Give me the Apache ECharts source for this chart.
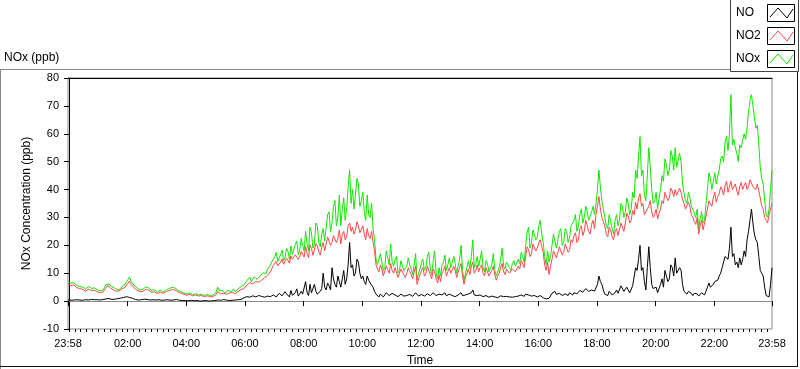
<!DOCTYPE html>
<html>
<head>
<meta charset="utf-8">
<script src="https://cdn.jsdelivr.net/npm/echarts@6/dist/echarts.min.js"></script>
<style>
html,body{margin:0;padding:0;background:#fff;}
#c{width:800px;height:369px;}
</style>
</head>
<body>
<div id="c"></div>
<script>
// Sampling: one reading every 3 minutes, starting 23:58 (-2 min), ending 23:58 next day
var startMinute = -2;
var stepMinutes = 3;

var noValues = [
0.5,0.6,0.3,0.4,0.4,0.5,0.5,0.3,0.4,0.5,0.3,0.4,0.5,0.3,0.4,0.5,0.6,0.4,0.5,0.4,
0.5,0.4,0.4,0.5,0.6,0.7,0.8,0.7,0.9,0.8,0.6,0.7,0.7,0.8,0.9,1.0,1.1,1.2,1.3,1.4,
1.6,1.5,1.3,1.2,1.0,0.8,0.6,0.5,0.4,0.5,0.5,0.6,0.7,0.6,0.6,0.5,0.4,0.4,0.5,0.4,
0.4,0.3,0.5,0.4,0.3,0.4,0.4,0.5,0.5,0.4,0.3,0.5,0.4,0.5,0.6,0.4,0.3,0.3,0.2,0.3,
0.2,0.1,0.1,0.2,0.3,0.2,0.1,0.2,0.2,0.1,0.0,0.1,0.1,0.2,0.2,0.1,0.0,0.1,0.1,0.1,
0.2,0.3,0.4,0.4,0.3,0.4,0.5,0.4,0.4,0.3,0.2,0.3,0.3,0.4,0.4,0.5,0.5,0.6,0.6,0.9,
1.2,1.0,1.6,1.3,1.4,1.2,1.9,1.6,1.5,1.3,2.0,1.5,1.7,1.4,1.4,1.2,1.8,1.4,1.6,1.9,
2.2,2.5,1.5,1.6,2.8,2.3,1.9,1.4,3.4,2.6,2.0,1.5,3.8,2.1,2.5,3.0,4.4,1.8,2.6,3.5,
2.5,2.0,7.0,3.0,2.0,6.0,3.0,2.5,6.0,3.5,2.5,3.0,3.5,4.5,10.0,5.0,4.0,6.5,5.5,4.0,
12.0,8.0,6.0,5.0,9.0,7.0,5.0,8.0,11.0,6.0,8.0,13.0,21.0,12.0,13.0,9.0,10.0,15.0,14.0,10.0,
8.0,9.0,7.0,6.0,9.0,7.5,6.5,7.0,5.0,3.5,2.5,1.8,1.5,2.5,2.0,1.5,1.8,3.0,2.5,2.0,
2.0,2.8,3.5,2.2,2.2,1.6,1.8,2.5,3.0,1.8,2.5,2.0,1.6,2.4,2.2,1.7,1.8,3.0,2.6,1.8,
2.0,2.4,2.5,1.8,1.7,2.6,2.8,2.0,2.2,3.0,3.5,2.0,1.8,2.5,2.0,2.2,2.6,3.0,1.9,2.3,
2.5,1.8,2.0,2.6,1.6,1.9,2.2,2.8,3.0,2.0,1.8,2.2,2.4,2.6,2.0,3.0,4.0,2.2,2.6,2.0,
1.8,2.2,2.5,1.6,1.5,2.0,1.9,1.4,1.3,1.8,2.4,1.5,1.6,1.2,1.4,1.9,2.0,1.6,1.5,1.7,
1.3,1.5,1.8,1.4,1.2,1.6,1.6,1.8,1.4,2.2,2.0,1.7,2.5,2.8,2.2,1.8,1.8,2.3,2.0,1.6,
1.5,1.8,2.0,1.4,1.2,1.0,0.8,1.1,1.0,1.6,2.8,3.2,3.5,2.4,2.0,2.8,2.5,2.0,1.8,2.6,
2.5,2.0,3.0,3.5,2.2,3.0,3.5,2.6,3.0,3.8,4.0,3.2,3.6,4.5,4.2,3.5,3.0,4.0,4.5,3.6,
4.0,6.0,9.0,7.0,6.0,4.0,2.5,2.8,2.0,3.5,3.0,2.2,1.5,3.0,4.0,2.8,3.5,5.5,5.0,3.5,
3.0,5.0,4.5,3.0,2.8,5.5,6.0,12.0,11.0,15.0,20.0,11.0,12.0,7.0,4.0,12.0,19.5,12.0,6.0,4.5,
4.0,5.0,3.0,4.5,6.0,8.0,5.0,11.0,9.0,7.0,8.0,13.0,12.0,9.0,15.5,10.0,10.0,12.0,11.0,6.0,
3.5,3.0,2.5,3.5,3.0,2.8,2.0,2.8,2.5,2.6,1.8,2.4,3.0,2.4,2.2,3.5,4.0,6.5,5.0,4.5,
6.0,7.0,7.0,7.5,9.0,10.0,12.0,12.0,16.0,16.5,15.0,19.0,26.5,16.0,17.0,13.0,14.0,12.0,15.5,13.0,
15.0,18.0,16.0,22.0,25.0,29.0,33.0,28.0,24.0,22.0,21.0,16.0,11.0,10.0,9.0,5.0,2.0,1.5,1.5,6.0,12.0
];

var no2Values = [
6.2,6.6,5.5,5.1,5.8,5.3,4.8,4.2,4.5,4.8,4.2,3.7,3.6,3.9,4.3,4.0,3.8,3.5,3.9,3.6,
3.4,3.2,3.0,3.5,3.3,4.1,4.8,5.6,5.2,4.7,4.4,4.0,3.9,3.5,3.4,3.8,3.6,4.5,4.1,4.9,
5.8,6.5,7.2,6.0,5.3,4.8,4.5,4.0,3.6,3.4,3.2,3.5,3.8,4.2,4.6,3.9,3.4,3.2,3.0,3.3,
3.0,2.7,2.8,3.2,3.1,2.8,2.9,3.4,3.3,3.8,3.6,4.1,4.4,4.0,3.8,3.3,3.0,2.8,2.6,2.4,
2.3,2.1,2.0,2.4,2.2,1.9,1.8,2.2,2.1,1.8,1.7,2.0,1.9,1.6,1.5,1.9,1.8,1.5,1.6,1.7,
1.9,2.4,3.4,3.0,2.6,3.1,2.8,2.4,2.5,3.0,2.9,2.6,3.2,3.4,2.7,3.1,3.5,3.8,4.1,4.0,
4.5,5.0,5.8,6.4,6.6,5.9,6.2,6.9,7.0,6.5,6.8,7.3,7.5,8.0,8.4,8.1,9.2,9.8,10.5,11.6,
12.8,13.5,14.2,12.6,13.0,14.0,15.1,13.2,13.8,15.4,14.5,13.6,16.2,15.0,14.8,16.6,17.0,14.9,16.0,17.8,
17.5,15.8,19.5,17.2,15.5,20.2,18.8,16.4,17.0,20.6,19.8,17.6,16.5,19.4,21.0,18.0,18.2,23.0,22.5,20.0,
21.0,23.5,24.0,21.0,22.5,25.5,20.5,24.0,25.0,22.0,23.0,27.0,28.0,25.0,26.5,24.0,25.5,28.5,27.0,24.5,
25.0,27.0,24.0,22.0,26.0,23.5,22.5,25.0,21.0,18.0,13.0,11.5,10.5,13.0,11.5,9.0,9.5,12.5,12.0,10.0,
13.5,11.0,10.0,12.0,12.5,8.5,9.0,11.5,11.0,9.5,8.5,10.0,12.0,10.5,9.5,8.0,10.5,12.5,6.0,8.0,
9.5,11.0,12.0,9.0,10.0,12.5,13.0,9.5,8.0,11.5,10.5,8.0,6.5,9.5,7.0,10.0,11.0,12.5,9.0,10.5,
12.0,10.0,9.5,12.5,11.0,8.5,10.5,12.0,13.5,9.0,6.0,8.5,10.0,11.5,9.5,12.5,14.0,10.0,11.0,13.0,
10.5,12.0,13.0,10.0,9.0,12.0,11.5,9.0,8.5,11.0,12.5,9.5,7.5,9.0,10.0,12.0,13.5,10.5,9.5,11.5,
11.0,10.0,9.5,11.5,12.0,10.5,10.0,12.5,11.5,14.5,13.5,12.0,16.0,19.5,18.5,16.0,17.0,20.5,20.0,18.0,
19.0,21.0,22.0,19.5,17.5,13.0,11.0,14.0,9.5,12.5,15.0,18.0,17.5,15.5,16.0,19.5,19.0,16.5,17.5,20.5,
20.5,17.5,18.5,22.0,21.0,23.5,24.5,21.0,22.0,26.0,27.0,23.5,25.0,29.0,28.5,25.0,24.0,27.5,29.0,26.0,
31.0,34.0,37.5,33.0,30.0,28.5,27.0,24.0,23.0,26.5,25.5,23.0,22.0,25.0,26.0,23.5,24.0,28.0,27.5,25.0,
28.0,31.5,30.5,28.0,29.0,32.5,31.0,35.5,33.0,37.0,38.5,34.0,35.0,31.0,30.5,33.0,34.0,36.0,32.0,30.0,
31.0,33.0,29.5,31.5,33.0,36.0,35.0,39.0,38.5,36.0,37.0,40.5,39.5,37.5,40.0,38.0,37.5,40.5,39.0,36.5,
35.0,33.0,32.5,35.5,34.0,31.0,30.0,28.5,27.5,30.0,24.0,27.0,29.0,25.5,26.0,30.5,33.0,36.0,35.5,34.0,
37.0,39.0,35.5,37.5,38.5,41.0,40.0,38.0,41.5,43.0,39.0,41.0,43.0,40.0,40.5,42.0,39.5,38.0,41.0,42.5,
40.0,41.5,42.5,40.0,41.0,43.5,43.0,41.0,41.5,40.0,42.0,39.5,37.0,34.0,33.0,30.0,29.0,28.0,31.0,33.0,35.0
];

var noxValues = [
7.2,7.5,6.4,6.0,6.6,6.1,5.6,5.0,5.2,5.6,5.0,4.4,4.4,4.6,5.2,4.8,4.6,4.1,4.7,4.2,
4.1,3.8,3.7,4.2,4.0,5.0,6.0,6.6,6.1,5.5,5.2,4.7,4.6,4.1,4.0,4.6,4.4,5.4,5.0,6.0,
7.0,7.8,8.6,7.1,6.5,5.7,5.4,4.8,4.3,4.0,3.9,4.2,4.7,5.1,5.8,4.7,4.2,3.9,3.7,4.0,
3.6,3.3,3.4,3.9,3.8,3.3,3.4,4.1,3.9,4.5,4.3,4.9,5.2,4.7,4.5,3.9,3.6,3.3,3.2,2.9,
2.8,2.6,2.5,2.9,2.7,2.3,2.2,2.7,2.6,2.2,2.1,2.5,2.3,2.0,2.0,2.4,2.4,1.9,2.1,2.2,
2.5,3.2,5.0,3.8,3.3,3.9,3.6,3.0,3.1,3.9,3.7,3.3,4.0,4.3,3.4,4.0,4.4,4.9,5.2,5.1,
5.8,6.4,7.4,8.0,8.6,7.0,7.5,8.7,8.8,7.8,8.3,9.1,9.5,10.2,10.6,9.8,11.4,12.1,13.0,14.2,
15.0,16.0,17.5,14.2,14.6,16.8,18.3,14.6,15.6,18.9,17.8,15.0,19.8,16.8,16.5,20.4,21.5,16.6,18.4,22.5,
20.0,18.0,25.0,20.5,18.0,26.5,24.5,19.0,20.5,28.0,27.0,21.0,19.5,24.0,26.0,21.5,22.0,31.0,32.0,25.0,
28.0,34.0,36.0,27.0,30.0,38.0,27.0,33.0,37.0,29.0,33.0,41.0,47.0,35.0,40.0,33.0,38.0,44.0,42.0,34.0,
36.0,39.0,32.0,29.0,38.0,31.0,30.0,35.0,26.0,22.0,15.0,13.0,13.0,17.0,17.0,11.0,12.0,18.0,18.0,13.0,
20.5,14.0,12.5,15.0,16.0,10.0,11.0,14.5,14.0,11.0,10.5,12.5,15.5,13.0,11.5,9.5,13.0,17.0,7.5,10.0,
11.5,14.0,15.0,11.0,12.0,16.0,17.5,11.5,9.5,14.5,18.0,10.0,8.0,12.0,9.0,13.0,14.0,16.5,11.0,13.0,
15.5,12.0,12.0,16.0,13.5,10.0,12.5,15.0,20.0,11.0,7.5,10.0,12.0,14.5,11.5,16.0,22.0,12.0,13.0,16.0,
12.5,15.0,18.0,12.0,10.5,14.5,13.5,10.5,10.0,13.0,17.0,11.0,9.0,10.5,12.0,15.0,19.0,12.5,11.5,14.0,
13.0,12.0,11.0,13.5,14.5,12.5,12.0,15.0,13.5,17.5,16.0,14.0,19.5,24.5,26.5,19.0,21.0,25.5,25.0,22.0,
23.0,27.0,29.0,24.0,21.0,16.0,13.0,18.0,14.0,16.0,20.0,24.0,24.0,19.0,19.5,25.0,26.0,20.0,21.0,26.0,
25.0,21.0,23.0,27.0,28.0,29.0,31.0,25.0,27.0,31.0,33.0,28.0,30.0,34.0,32.0,29.0,28.5,32.0,34.0,31.0,
35.0,40.0,47.0,41.0,36.0,33.0,30.0,27.0,26.0,31.0,30.5,26.0,24.0,29.0,31.0,27.0,29.0,35.0,34.0,30.0,
32.0,37.0,35.0,31.0,33.0,39.0,37.0,47.0,44.0,52.0,59.0,45.0,47.0,38.0,36.0,45.0,55.0,48.0,40.0,35.0,
36.0,39.0,33.0,37.0,40.0,45.0,43.0,51.0,49.0,45.0,47.0,54.0,52.0,47.0,55.0,48.0,48.0,53.0,50.0,42.0,
39.0,36.0,35.0,39.0,37.0,34.0,33.0,31.5,30.0,33.0,26.0,29.5,32.0,28.0,29.0,35.0,40.0,46.0,44.0,40.0,
43.0,46.0,42.0,45.0,47.0,51.0,52.0,50.0,57.0,59.0,54.0,60.0,74.0,56.0,58.0,55.0,53.0,50.0,56.0,55.0,
55.0,60.0,58.0,62.0,68.0,72.0,74.0,70.0,66.0,62.0,63.0,56.0,48.0,44.0,42.0,36.0,31.0,30.0,33.0,40.0,47.0
];

var majorTickMinutes = [-2,120,240,360,480,600,720,840,960,1080,1200,1320,1438];
var yTicks = [-10,0,10,20,30,40,50,60,70,80];

function pairs(vals){
  return vals.map(function(v,i){ return [startMinute + i*stepMinutes, v]; });
}
var minorTickMinutes = [];
for (var m = 0; m <= 1428; m += 12) minorTickMinutes.push(m);

function fmtTime(v){
  var m = ((Math.round(v) % 1440) + 1440) % 1440;
  var h = Math.floor(m/60), mm = m % 60;
  return (h<10?'0':'')+h+':'+(mm<10?'0':'')+mm;
}

var FONT = 'Liberation Sans';
var chart = echarts.init(document.getElementById('c'), null, {renderer:'canvas'});
var xMin = -2, xMax = 1438;

var legendRows = [
  {name:'NO', color:'#000000', y:4},
  {name:'NO2', color:'#ff4848', y:27},
  {name:'NOx', color:'#10e800', y:50}
];
var graphics = [
  {type:'line', shape:{x1:0, y1:69.5, x2:730, y2:69.5}, style:{stroke:'#8a8a8a', lineWidth:1}, silent:true},
  {type:'line', shape:{x1:0.5, y1:69, x2:0.5, y2:369}, style:{stroke:'#8a8a8a', lineWidth:1}, silent:true},
  {type:'line', shape:{x1:797.5, y1:72, x2:797.5, y2:367}, style:{stroke:'#111', lineWidth:1}, silent:true},
  {type:'line', shape:{x1:0, y1:366.5, x2:798, y2:366.5}, style:{stroke:'#111', lineWidth:1}, silent:true},
  {type:'rect', shape:{x:730.5, y:-1, width:68, height:72.5}, style:{fill:'#fff', stroke:'#444', lineWidth:1}, silent:true},
  {type:'text', left:4, top:52, style:{text:'NOx (ppb)', font:'12px '+FONT, fill:'#000'}, silent:true}
];
legendRows.forEach(function(r){
  graphics.push({type:'text', left:736, top:r.y+3, style:{text:r.name, font:'12px '+FONT, fill:'#000'}, silent:true});
  graphics.push({type:'rect', shape:{x:767.5, y:r.y+0.5, width:27, height:17}, style:{fill:'#fff', stroke:'#000', lineWidth:1}, silent:true});
  graphics.push({type:'polyline', shape:{points:[[770,r.y+13],[778,r.y+4],[787,r.y+14],[793,r.y+5]]}, style:{stroke:r.color, lineWidth:1, fill:null}, silent:true});
});

chart.setOption({
  animation:false,
  backgroundColor:'#ffffff',
  grid:{left:68, right:28, top:78, bottom:40, containLabel:false, outerBoundsMode:'none',
        show:true, borderColor:'#8a8a8a', borderWidth:1, backgroundColor:'#ffffff'},
  xAxis:[
    {type:'value', min:xMin, max:xMax, position:'bottom',
     name:'Time', nameLocation:'middle', nameGap:26,
     nameTextStyle:{fontFamily:FONT, fontSize:12, color:'#000'},
     axisLine:{show:true, lineStyle:{color:'#8a8a8a', width:1}},
     axisTick:{show:true, length:5, inside:false, customValues:majorTickMinutes, lineStyle:{color:'#000'}},
     axisLabel:{show:true, customValues:majorTickMinutes, formatter:fmtTime, fontFamily:FONT, fontSize:11, color:'#000', margin:9},
     splitLine:{show:false}},
    {type:'value', min:xMin, max:xMax, position:'bottom',
     axisLine:{show:false},
     axisTick:{show:true, length:3, customValues:minorTickMinutes, lineStyle:{color:'#000'}},
     axisLabel:{show:false}, splitLine:{show:false}},
    {type:'value', min:xMin, max:xMax, position:'top',
     axisLine:{show:true, lineStyle:{color:'#000', width:1}},
     axisTick:{show:false}, axisLabel:{show:false}, splitLine:{show:false}}
  ],
  yAxis:{type:'value', min:-10, max:80, interval:10,
     name:'NOx Concentration (ppb)', nameLocation:'middle', nameGap:31, nameRotate:90,
     nameTextStyle:{fontFamily:FONT, fontSize:12, color:'#000'},
     axisLine:{show:true, lineStyle:{color:'#000', width:1}},
     axisTick:{show:true, length:5, lineStyle:{color:'#000'}},
     axisLabel:{fontFamily:FONT, fontSize:11, color:'#000', margin:9,
       formatter:function(v){ return yTicks.indexOf(v) >= 0 ? String(v) : ''; }},
     splitLine:{show:false}},
  graphic:graphics,
  series:[
    {name:'NOx', type:'line', data:pairs(noxValues), showSymbol:false, symbol:'none', lineStyle:{color:'#10e800', width:1}, z:2},
    {name:'NO2', type:'line', data:pairs(no2Values), showSymbol:false, symbol:'none', lineStyle:{color:'#ff4848', width:1}, z:3},
    {name:'NO', type:'line', data:pairs(noValues), showSymbol:false, symbol:'none', lineStyle:{color:'#000000', width:1}, z:4}
  ]
});
</script>
</body>
</html>
